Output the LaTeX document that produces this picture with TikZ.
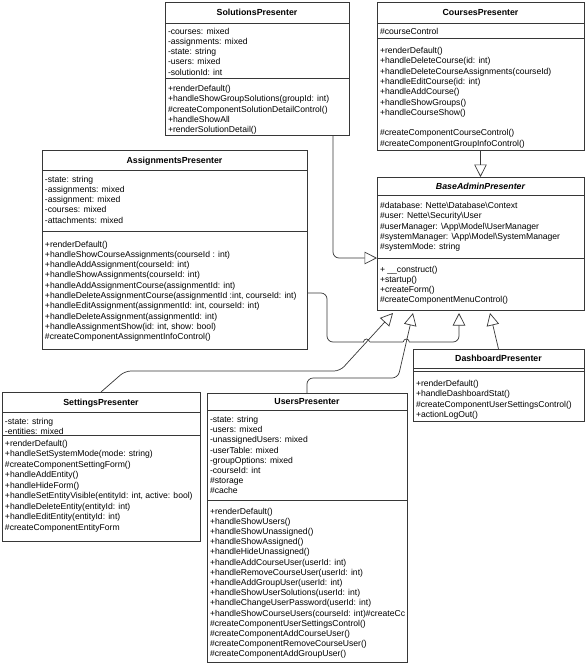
\documentclass[tikz,border=0pt]{standalone}
\usepackage{fontspec}
\setmainfont{Liberation Sans}
\usetikzlibrary{arrows.meta}
\definecolor{lc}{RGB}{55,55,55}
\newcommand{\clines}[2]{\parbox[t]{260pt}{\fontsize{8.6}{#1}\selectfont\raggedright #2}}
\begin{document}
\begin{tikzpicture}[x=1pt,y=-1pt,
  every node/.style={inner sep=0pt, outer sep=0pt},
  box/.style={draw=lc, line width=0.7pt, anchor=north west, fill=white},
  ttl/.style={anchor=base, font=\fontsize{8.8}{10}\selectfont\bfseries},
  txt/.style={anchor=base west, yshift=-1.5pt},
  sepline/.style={draw=lc, line width=0.7pt},
  inh/.style={draw=lc, line width=0.7pt, -{Triangle[open, length=12.5pt, width=12.5pt]}, rounded corners=6pt},
]
\fill[white] (0,0) rectangle (585,665);
\useasboundingbox (0,0) rectangle (585,665);

% SolutionsPresenter
\node[box, minimum width=184pt, minimum height=133pt] (sol) at (165,2) {};
\draw[sepline] (165,23) -- (349,23) (165,78) -- (349,78);
\node[ttl] (solT) at (257,15.7) {SolutionsPresenter};
\node[txt] (solA) at (168,32.5) {\clines{10.3}{-courses: mixed\\-assignments: mixed\\-state: string\\-users: mixed\\-solutionId: int}};
\node[txt] (solM) at (168,90) {\clines{10.3}{+renderDefault()\\+handleShowGroupSolutions(groupId: int)\\\#createComponentSolutionDetailControl()\\+handleShowAll\\+renderSolutionDetail()}};

% CoursesPresenter
\node[box, minimum width=207pt, minimum height=148pt] (cou) at (377,2) {};
\draw[sepline] (377,23) -- (584,23) (377,38) -- (584,38);
\node[ttl] (couT) at (480.5,15.7) {CoursesPresenter};
\node[txt] (couA) at (380,32.5) {\clines{10.3}{\#courseControl}};
\node[txt] (couM) at (380,52) {\clines{10.3}{+renderDefault()\\+handleDeleteCourse(id: int)\\+handleDeleteCourseAssignments(courseId)\\+handleEditCourse(id: int)\\+handleAddCourse()\\+handleShowGroups()\\+handleCourseShow()\\[10.3pt]\#createComponentCourseControl()\\\#createComponentGroupInfoControl()}};

% AssignmentsPresenter
\node[box, minimum width=265pt, minimum height=199pt] (asg) at (42,150) {};
\draw[sepline] (42,170) -- (307,170) (42,231) -- (307,231);
\node[ttl] (asgT) at (174.5,163.2) {AssignmentsPresenter};
\node[txt] (asgA) at (45,180.5) {\clines{10.3}{-state: string\\-assignments: mixed\\-assignment: mixed\\-courses: mixed\\-attachments: mixed}};
\node[txt] (asgM) at (45,245.5) {\clines{10.3}{+renderDefault()\\+handleShowCourseAssignments(courseId : int)\\+handleAddAssignment(courseId: int)\\+handleShowAssignments(courseId: int)\\+handleAddAssignmentCourse(assignmentId: int)\\+handleDeleteAssignmentCourse(assignmentId :int, courseId: int)\\+handleEditAssignment(assignmentId: int, courseId: int)\\+handleDeleteAssignment(assignmentId: int)\\+handleAssignmentShow(id: int, show: bool)\\\#createComponentAssignmentInfoControl()}};

% BaseAdminPresenter
\node[box, minimum width=207pt, minimum height=133pt] (base) at (377,177) {};
\draw[sepline] (377,195) -- (584,195) (377,258) -- (584,258);
\node[ttl] (baseT) at (480.5,189.7) {\itshape BaseAdminPresenter};
\node[txt] (baseA) at (380,207) {\clines{10.3}{\#database: Nette\textbackslash Database\textbackslash Context\\\#user: Nette\textbackslash Security\textbackslash User\\\#userManager: \textbackslash App\textbackslash Model\textbackslash UserManager\\\#systemManager: \textbackslash App\textbackslash Model\textbackslash SystemManager\\\#systemMode: string}};
\node[txt] (baseM) at (380,270.5) {\clines{10.3}{+ \_\_construct()\\+startup()\\+createForm()\\\#createComponentMenuControl()}};

% DashboardPresenter
\node[box, minimum width=171pt, minimum height=72pt] (dash) at (413,349) {};
\draw[sepline] (413,368) -- (584,368) (413,371) -- (584,371);
\node[ttl] (dashT) at (498.5,361.7) {DashboardPresenter};
\node[txt] (dashM) at (416,385) {\clines{10.3}{+renderDefault()\\+handleDashboardStat()\\\#createComponentUserSettingsControl()\\+actionLogOut()}};

% SettingsPresenter
\node[box, minimum width=198pt, minimum height=149pt] (set) at (2,392) {};
\draw[sepline] (2,412) -- (200,412) (2,435) -- (200,435);
\node[ttl] (setT) at (101,405.2) {SettingsPresenter};
\node[txt] (setA) at (5,422.5) {\clines{10.3}{-state: string\\-entities: mixed}};
\node[txt] (setM) at (5,444.5) {\clines{10.5}{+renderDefault()\\+handleSetSystemMode(mode: string)\\\#createComponentSettingForm()\\+handleAddEntity()\\+handleHideForm()\\+handleSetEntityVisible(entityId: int, active: bool)\\+handleDeleteEntity(entityId: int)\\+handleEditEntity(entityId: int)\\\#createComponentEntityForm}};

% UsersPresenter
\node[box, minimum width=200pt, minimum height=269pt] (usr) at (207,393) {};
\draw[sepline] (207,410) -- (407,410) (207,500) -- (407,500);
\node[ttl] (usrT) at (307,404.7) {UsersPresenter};
\node[txt] (usrA) at (210,421) {\clines{10.2}{-state: string\\-users: mixed\\-unassignedUsers: mixed\\-userTable: mixed\\-groupOptions: mixed\\-courseId: int\\\#storage\\\#cache}};
\begin{scope}
\clip (207,500) rectangle (406.5,662);
\node[txt] (usrM) at (210,512.5) {\clines{10.2}{+renderDefault()\\+handleShowUsers()\\+handleShowUnassigned()\\+handleShowAssigned()\\+handleHideUnassigned()\\+handleAddCourseUser(userId: int)\\+handleRemoveCourseUser(userId: int)\\+handleAddGroupUser(userId: int)\\+handleShowUserSolutions(userId: int)\\+handleChangeUserPassword(userId: int)\\+handleShowCourseUsers(courseId: int)\#createCc\\\#createComponentUserSettingsControl()\\\#createComponentAddCourseUser()\\\#createComponentRemoveCourseUser()\\\#createComponentAddGroupUser()}};
\end{scope}

% Connectors
\draw[inh] ([xshift=76pt]sol.south) |- ([yshift=-14.5pt]base.west);
\draw[inh] (cou.south) -- (base.north);
\draw[inh] ([yshift=-43.5pt]asg.east) -- (327,293) -- (327,342) -- (459,342) -- ([xshift=-21.5pt,yshift=-3pt]base.south);
\draw[white, line width=1.6pt] (363.5,342) -- (369.5,342) (403.3,342) -- (409.3,342);
\draw[inh] (set.north) -- (125,371) -- (340,371) -- ([xshift=-87.5pt,yshift=-3pt]base.south);
\draw[inh] (usr.north) -- (307,378) -- (398,378) -- ([xshift=-67.5pt,yshift=-3pt]base.south);
\draw[inh] (dash.north) -- ([xshift=9.5pt,yshift=-3pt]base.south);
\draw[lc, line width=0.7pt] (363.5,342) arc[start angle=180, end angle=360, radius=3];
\draw[lc, line width=0.7pt] (403.3,342) arc[start angle=180, end angle=360, radius=3];
\end{tikzpicture}
\end{document}
